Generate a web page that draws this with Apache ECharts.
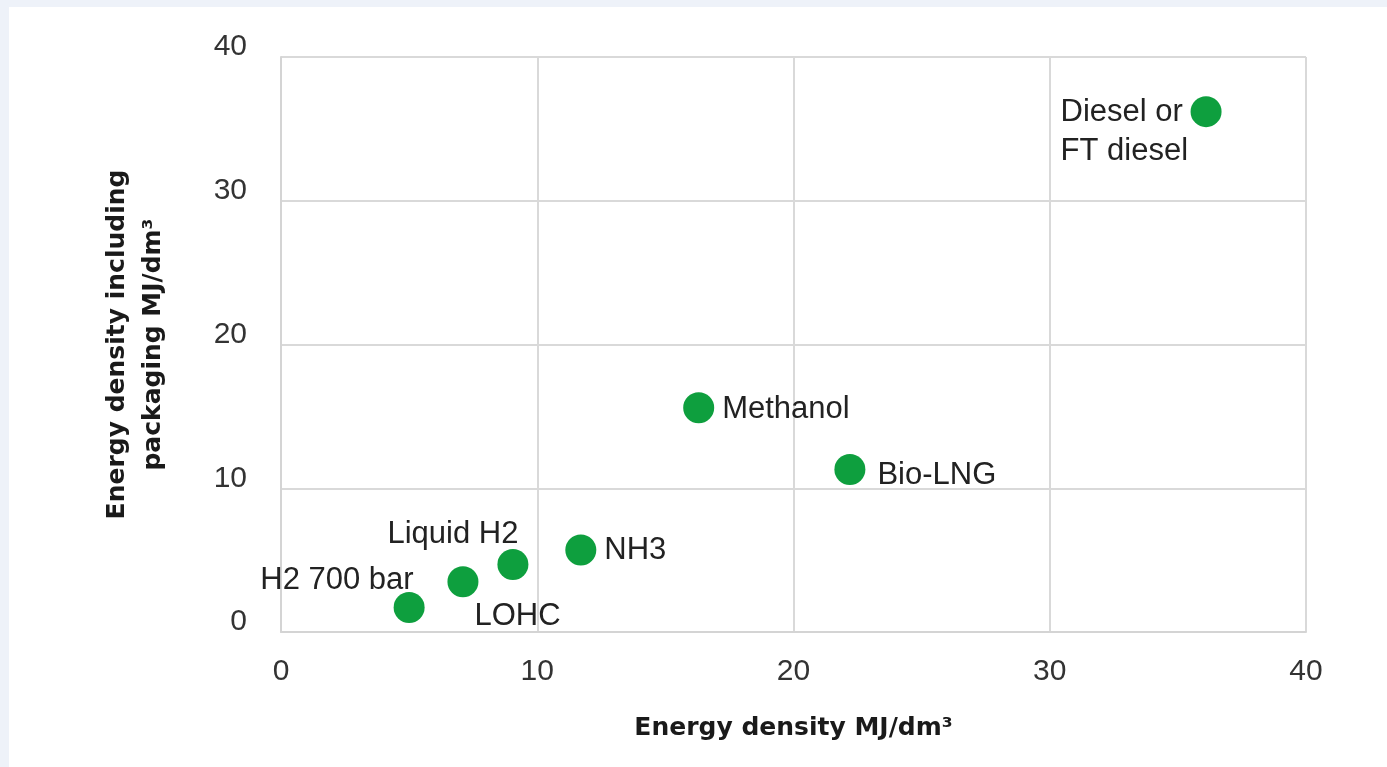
<!DOCTYPE html>
<html>
<head>
<meta charset="utf-8">
<script src="https://cdn.jsdelivr.net/npm/echarts@6/dist/echarts.min.js"></script>
<style>
  html, body {
    margin: 0;
    padding: 0;
    width: 1387px;
    height: 767px;
    background: #eef2f9;
    overflow: hidden;
  }
  #chart {
    position: absolute;
    left: 9px;
    top: 7px;
    width: 1378px;
    height: 760px;
    background: #fff;
  }
</style>
</head>
<body>
<div id="chart"></div>
<script>
// fuels and their energy densities (MJ/dm3)
var fuels = ["H2 700 bar", "LOHC", "Liquid H2", "NH3", "Methanol", "Bio-LNG", "Diesel or\nFT diesel"];
var energyDensity = [5.0, 7.1, 9.05, 11.7, 16.3, 22.2, 36.1];
var withPackaging = [1.7, 3.5, 4.7, 5.7, 15.6, 11.3, 36.2];
var axisTicks = [0, 10, 20, 30, 40];

// label placement per point, relative to the marker's top-left corner
var labelPos = {
  "H2 700 bar": { position: [20, -12], align: "right" },
  "LOHC": { position: [27, 50], align: "left" },
  "Liquid H2": { position: [21, -14], align: "right" },
  "NH3": { position: [39, 16], align: "left" },
  "Methanol": { position: [39, 17], align: "left" },
  "Bio-LNG": { position: [43, 21], align: "left" },
  "Diesel or\nFT diesel": { position: [-130, 36], align: "left" }
};

var chart = echarts.init(document.getElementById("chart"));

var points = fuels.map(function (name, i) {
  var lp = labelPos[name];
  return {
    name: name,
    value: [energyDensity[i], withPackaging[i]],
    label: { position: lp.position, align: lp.align, verticalAlign: "middle" }
  };
});

var titleFont = {
  fontFamily: "DejaVu Sans",
  fontWeight: "bold",
  fontSize: 25,
  color: "#1a1a1a"
};

var option = {
  animation: false,
  grid: {
    left: 272,
    right: 81,
    top: 50,
    bottom: 135
  },
  xAxis: {
    type: "value",
    min: axisTicks[0],
    max: axisTicks[axisTicks.length - 1],
    interval: 10,
    name: "Energy density MJ/dm³",
    nameLocation: "middle",
    nameGap: 84,
    nameTextStyle: titleFont,
    axisLine: { show: true, lineStyle: { color: "#d4d4d4", width: 2 } },
    axisTick: { show: false },
    axisLabel: {
      margin: 25,
      fontFamily: "Liberation Sans",
      fontSize: 30,
      color: "#333"
    },
    splitLine: { show: true, lineStyle: { color: "#d9d9d9", width: 2 } }
  },
  yAxis: {
    type: "value",
    min: axisTicks[0],
    max: axisTicks[axisTicks.length - 1],
    interval: 10,
    name: "Energy density including\npackaging MJ/dm³",
    nameLocation: "middle",
    nameGap: 110,
    nameTextStyle: Object.assign({ lineHeight: 36 }, titleFont),
    axisLine: { show: true, lineStyle: { color: "#d4d4d4", width: 2 } },
    axisTick: { show: false },
    axisLabel: {
      margin: 34,
      fontFamily: "Liberation Sans",
      fontSize: 30,
      lineHeight: 20,
      color: "#333",
      verticalAlign: "bottom"
    },
    splitLine: { show: true, lineStyle: { color: "#d9d9d9", width: 2 } }
  },
  series: [
    {
      type: "scatter",
      symbolSize: 31,
      itemStyle: { color: "#0e9f3e", opacity: 1 },
      label: {
        show: true,
        formatter: "{b}",
        fontFamily: "Liberation Sans",
        fontSize: 31,
        lineHeight: 39,
        color: "#222"
      },
      data: points
    }
  ]
};

option && chart.setOption(option);
</script>
</body>
</html>
